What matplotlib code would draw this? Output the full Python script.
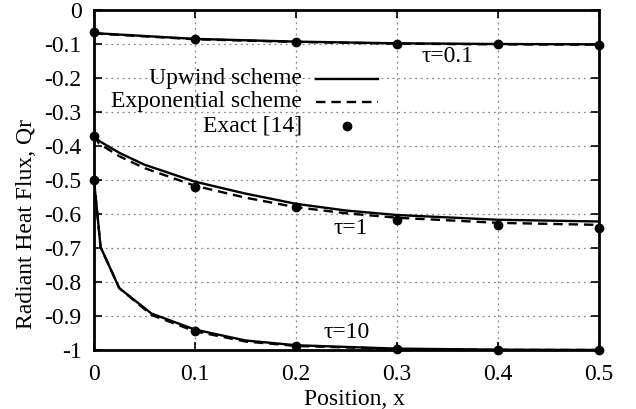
import matplotlib
matplotlib.use("Agg")
import matplotlib.pyplot as plt
from matplotlib.lines import Line2D

plt.rcParams['font.family'] = ['Liberation Serif', 'DejaVu Serif']

# tau = 0.1
x_up_01 = [0, 0.1, 0.2, 0.3, 0.4, 0.5]
y_up_01 = [-0.068, -0.085, -0.093, -0.098, -0.100, -0.101]
y_ex_01 = [-0.069, -0.086, -0.094, -0.099, -0.101, -0.102]

# tau = 1
x_up_1 = [0, 0.005, 0.025, 0.05, 0.1, 0.15, 0.2, 0.25, 0.3, 0.4, 0.5]
y_up_1 = [-0.37, -0.385, -0.42, -0.455, -0.505, -0.54, -0.57, -0.59, -0.603, -0.617, -0.622]
y_ex_1 = [-0.37, -0.393, -0.43, -0.465, -0.517, -0.552, -0.58, -0.598, -0.611, -0.626, -0.632]

# tau = 10
x_up_10 = [0, 0.0065, 0.025, 0.057, 0.1, 0.15, 0.2, 0.3, 0.4, 0.5]
y_up_10 = [-0.5, -0.697, -0.818, -0.893, -0.94, -0.972, -0.986, -0.996, -0.999, -1.0]
y_ex_10 = [-0.5, -0.697, -0.818, -0.897, -0.945, -0.975, -0.988, -0.997, -1.0, -1.0]

# exact
x_exact = [0, 0.1, 0.2, 0.3, 0.4, 0.5]
y_exact_01 = [-0.066, -0.085, -0.094, -0.099, -0.101, -0.102]
y_exact_1 = [-0.37, -0.52, -0.578, -0.617, -0.633, -0.64]
y_exact_10 = [-0.5, -0.944, -0.988, -0.998, -1.0, -1.0]

xticks = [0, 0.1, 0.2, 0.3, 0.4, 0.5]
xticklabels = ['0', '0.1', '0.2', '0.3', '0.4', '0.5']
yticks = [0, -0.1, -0.2, -0.3, -0.4, -0.5, -0.6, -0.7, -0.8, -0.9, -1]
yticklabels = ['0', '-0.1', '-0.2', '-0.3', '-0.4', '-0.5', '-0.6', '-0.7', '-0.8', '-0.9', '-1']

fig = plt.figure(figsize=(6.36, 4.09), dpi=100)
ax = fig.add_axes([94/636, 1-350/409, (599-94)/636, (350-10)/409])

lw = 1.7
for xs, yu, ye in [(x_up_01, y_up_01, y_ex_01), (x_up_1, y_up_1, y_ex_1), (x_up_10, y_up_10, y_ex_10)]:
    ax.plot(xs, yu, color='black', lw=lw, solid_joinstyle='miter')
    ax.plot(xs, ye, color='black', lw=lw, ls=(0, (4, 2.5)))
for ye in [y_exact_01, y_exact_1, y_exact_10]:
    ax.plot(x_exact, ye, 'o', color='black', ms=6, clip_on=False, zorder=5)

FS = 17
ax.set_xlim(0, 0.5)
ax.set_ylim(-1, 0)
ax.set_xticks(xticks)
ax.set_xticklabels(xticklabels)
ax.set_yticks(yticks)
ax.set_yticklabels(yticklabels)
ax.tick_params(direction='in', length=6, width=1.2, top=True, right=True, labelsize=FS)
ax.tick_params(axis='x', pad=10)
ax.tick_params(axis='y', pad=9)
ax.grid(True, color='#888888', ls=(0, (1.5, 3)), lw=0.9)
for s in ax.spines.values():
    s.set_linewidth(2)

ax.set_xlabel('Position, x', fontsize=FS)
ax.xaxis.set_label_coords(0.515, -0.115)
ax.set_ylabel('Radiant Heat Flux, Qr', fontsize=FS)
ax.yaxis.set_label_coords(-0.113, 0.37)

ax.text(0.35, -0.138, 'τ=0.1', fontsize=FS, ha='center', va='center')
ax.text(0.254, -0.643, 'τ=1', fontsize=FS, ha='center', va='center')
ax.text(0.25, -0.95, 'τ=10', fontsize=FS, ha='center', va='center')

# legend (gnuplot style: right-justified text, sample to the right)
leg_rows = [('Upwind scheme', dict(color='black', lw=lw)),
            ('Exponential scheme', dict(color='black', lw=lw, ls=(0, (4, 2.5)))),
            ('Exact [14]', dict(color='black', marker='o', ms=6, ls='none'))]
tx = (302-94)/505
ly = [(79-10)/340, (102-10)/340, (126-10)/340]
for (lab, st), yy in zip(leg_rows, ly):
    ya = 1 - yy
    ax.text(tx, ya, lab, transform=ax.transAxes, ha='right', va='center', fontsize=FS)
    if st.get('marker'):
        ax.add_line(Line2D([(347-94)/505], [ya], transform=ax.transAxes, **st))
    else:
        ax.add_line(Line2D([(316-94)/505, (378-94)/505], [ya, ya], transform=ax.transAxes, **st))

fig.savefig('out.png', dpi=100)
